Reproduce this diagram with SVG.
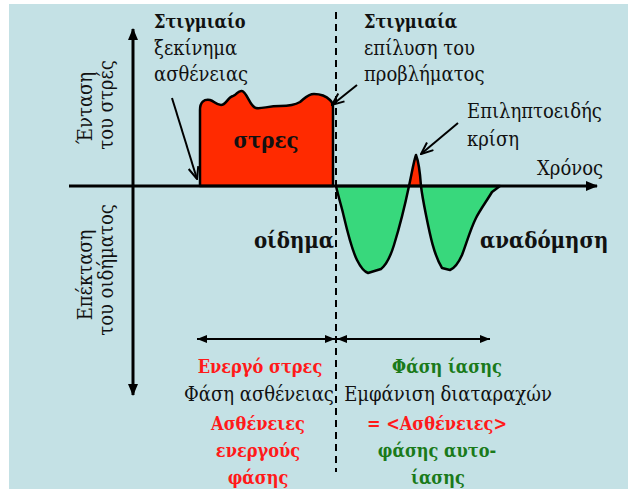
<svg xmlns="http://www.w3.org/2000/svg" width="628" height="489" viewBox="0 0 628 489">
<defs>
<style>
text{font-family:'DejaVu Serif',serif;font-stretch:condensed;font-size:20px;fill:#111}
.b{font-weight:bold;font-size:18px}
.big{font-size:22px;font-weight:bold}
.red{fill:#ff1a1a;font-weight:bold;font-size:18px}
.grn{fill:#1a7a1a;font-weight:bold;font-size:18px}
.rot{font-size:20px}
.ax{stroke:#000;stroke-width:3;fill:none}
.ann{stroke:#000;stroke-width:2;fill:none}
.shape{stroke:#000;stroke-width:2.5;stroke-linejoin:round}
</style>
<marker id="axhead" viewBox="0 0 12 10" refX="11" refY="5" markerWidth="12" markerHeight="10" markerUnits="userSpaceOnUse" orient="auto">
<path d="M0,0 L12,5 L0,10 Z" fill="#000"/>
</marker>
<marker id="open" viewBox="0 0 14 12" refX="13" refY="6" markerWidth="14" markerHeight="12" markerUnits="userSpaceOnUse" orient="auto">
<path d="M1,1 L13,6 L1,11" fill="none" stroke="#000" stroke-width="2"/>
</marker>
<marker id="small" viewBox="0 0 10 8" refX="10" refY="4" markerWidth="10" markerHeight="8" markerUnits="userSpaceOnUse" orient="auto-start-reverse">
<path d="M0,0 L10,4 L0,8 Z" fill="#000"/>
</marker>
</defs>
<rect x="9" y="4" width="619" height="485" fill="#c4e1e5"/>

<g id="stress-block">
<path class="shape" fill="#ff2a00" d="M200,186 V110 C200,102 204,99 210,100 C214,101 216,105 221,105 C226,105 228,97 233,96 C237,95 238,90 242,91 C247,92 250,107 256,108 C262,109 268,106 280,106 C290,106 295,105 300,102 C305,98 308,94 314,94 C320,94 326,96 330,100 C333,103 333,105 333,109 V186 Z"/>
<text class="big" x="266" y="148" text-anchor="middle">στρες</text>
</g>

<g id="edema-valley-1">
<path class="shape" fill="#38d87c" d="M336,186 C338,195 341,205 343,213 C347,230 351,248 357,260 C361,268 365,272 368,273 L381,269 C386,265 390,258 394,245 C398,232 404,210 409,186 Z"/>
</g>
<g id="edema-valley-2">
<path class="shape" fill="#38d87c" d="M421,186 C422,195 424,205 426,215 C430,235 434,255 442,268 L450,270 C455,268 458,264 462,255 C466,245 470,230 476,218 C480,210 486,202 492,192 L500,186 Z"/>
</g>
<g id="seizure-spike">
<path class="shape" fill="#ff2a00" d="M409,186 C412,172 414,160 416,155 C418,160 420,172 421,186 Z"/>
</g>

<g id="connectors">
<line class="ax" x1="69" y1="186" x2="597" y2="186" marker-end="url(#axhead)"/>
<line class="ax" x1="133" y1="186" x2="133" y2="29" marker-end="url(#axhead)"/>
<line class="ax" x1="133" y1="186" x2="133" y2="395" marker-end="url(#axhead)"/>
<line x1="336" y1="12" x2="336" y2="472" stroke="#000" stroke-width="2" stroke-dasharray="7,5"/>
<line class="ann" x1="172" y1="98" x2="197" y2="179" marker-end="url(#open)"/>
<line class="ann" x1="357" y1="85" x2="332" y2="105" marker-end="url(#open)"/>
<line class="ann" x1="458" y1="123" x2="421" y2="154" marker-end="url(#open)"/>
<line class="ann" x1="197" y1="339" x2="335" y2="339" marker-start="url(#small)" marker-end="url(#small)"/>
<line class="ann" x1="337" y1="339" x2="490" y2="339" marker-start="url(#small)" marker-end="url(#small)"/>
</g>

<g id="label-onset">
<text class="b" x="154" y="28">Στιγμιαίο</text>
<text x="154" y="55">ξεκίνημα</text>
<text x="154" y="81">ασθένειας</text>
</g>
<g id="label-resolution">
<text class="b" x="364" y="28">Στιγμιαία</text>
<text x="364" y="55">επίλυση του</text>
<text x="364" y="81">προβλήματος</text>
</g>
<g id="label-seizure">
<text x="467" y="118">Επιληπτοειδής</text>
<text x="467" y="146">κρίση</text>
</g>
<g id="label-time">
<text x="537" y="175">Χρόνος</text>
</g>
<g id="label-y-up">
<text class="rot" transform="translate(92,108) rotate(-90)" text-anchor="middle">Ένταση</text>
<text class="rot" transform="translate(113,105) rotate(-90)" text-anchor="middle">του στρές</text>
</g>
<g id="label-y-down">
<text class="rot" transform="translate(92,275) rotate(-90)" text-anchor="middle">Επέκταση</text>
<text class="rot" transform="translate(113,270) rotate(-90)" text-anchor="middle">του οιδήματος</text>
</g>
<g id="label-edema">
<text class="big" x="334" y="248" text-anchor="end">οίδημα</text>
</g>
<g id="label-remodel">
<text class="big" x="480" y="248">αναδόμηση</text>
</g>
<g id="label-active">
<text class="red" x="260" y="373" text-anchor="middle">Ενεργό στρες</text>
<text x="259" y="401" text-anchor="middle">Φάση ασθένειας</text>
<text class="red" x="258" y="430" text-anchor="middle">Ασθένειες</text>
<text class="red" x="258" y="457" text-anchor="middle">ενεργούς</text>
<text class="red" x="258" y="484" text-anchor="middle">φάσης</text>
</g>
<g id="label-healing">
<text class="grn" x="447" y="373" text-anchor="middle">Φάση ίασης</text>
<text x="448" y="401" text-anchor="middle">Εμφάνιση διαταραχών</text>
<text class="red" x="437" y="430" text-anchor="middle">= &lt;Ασθένειες&gt;</text>
<text class="grn" x="437" y="457" text-anchor="middle">φάσης αυτο-</text>
<text class="grn" x="438" y="484" text-anchor="middle">ίασης</text>
</g>
</svg>
